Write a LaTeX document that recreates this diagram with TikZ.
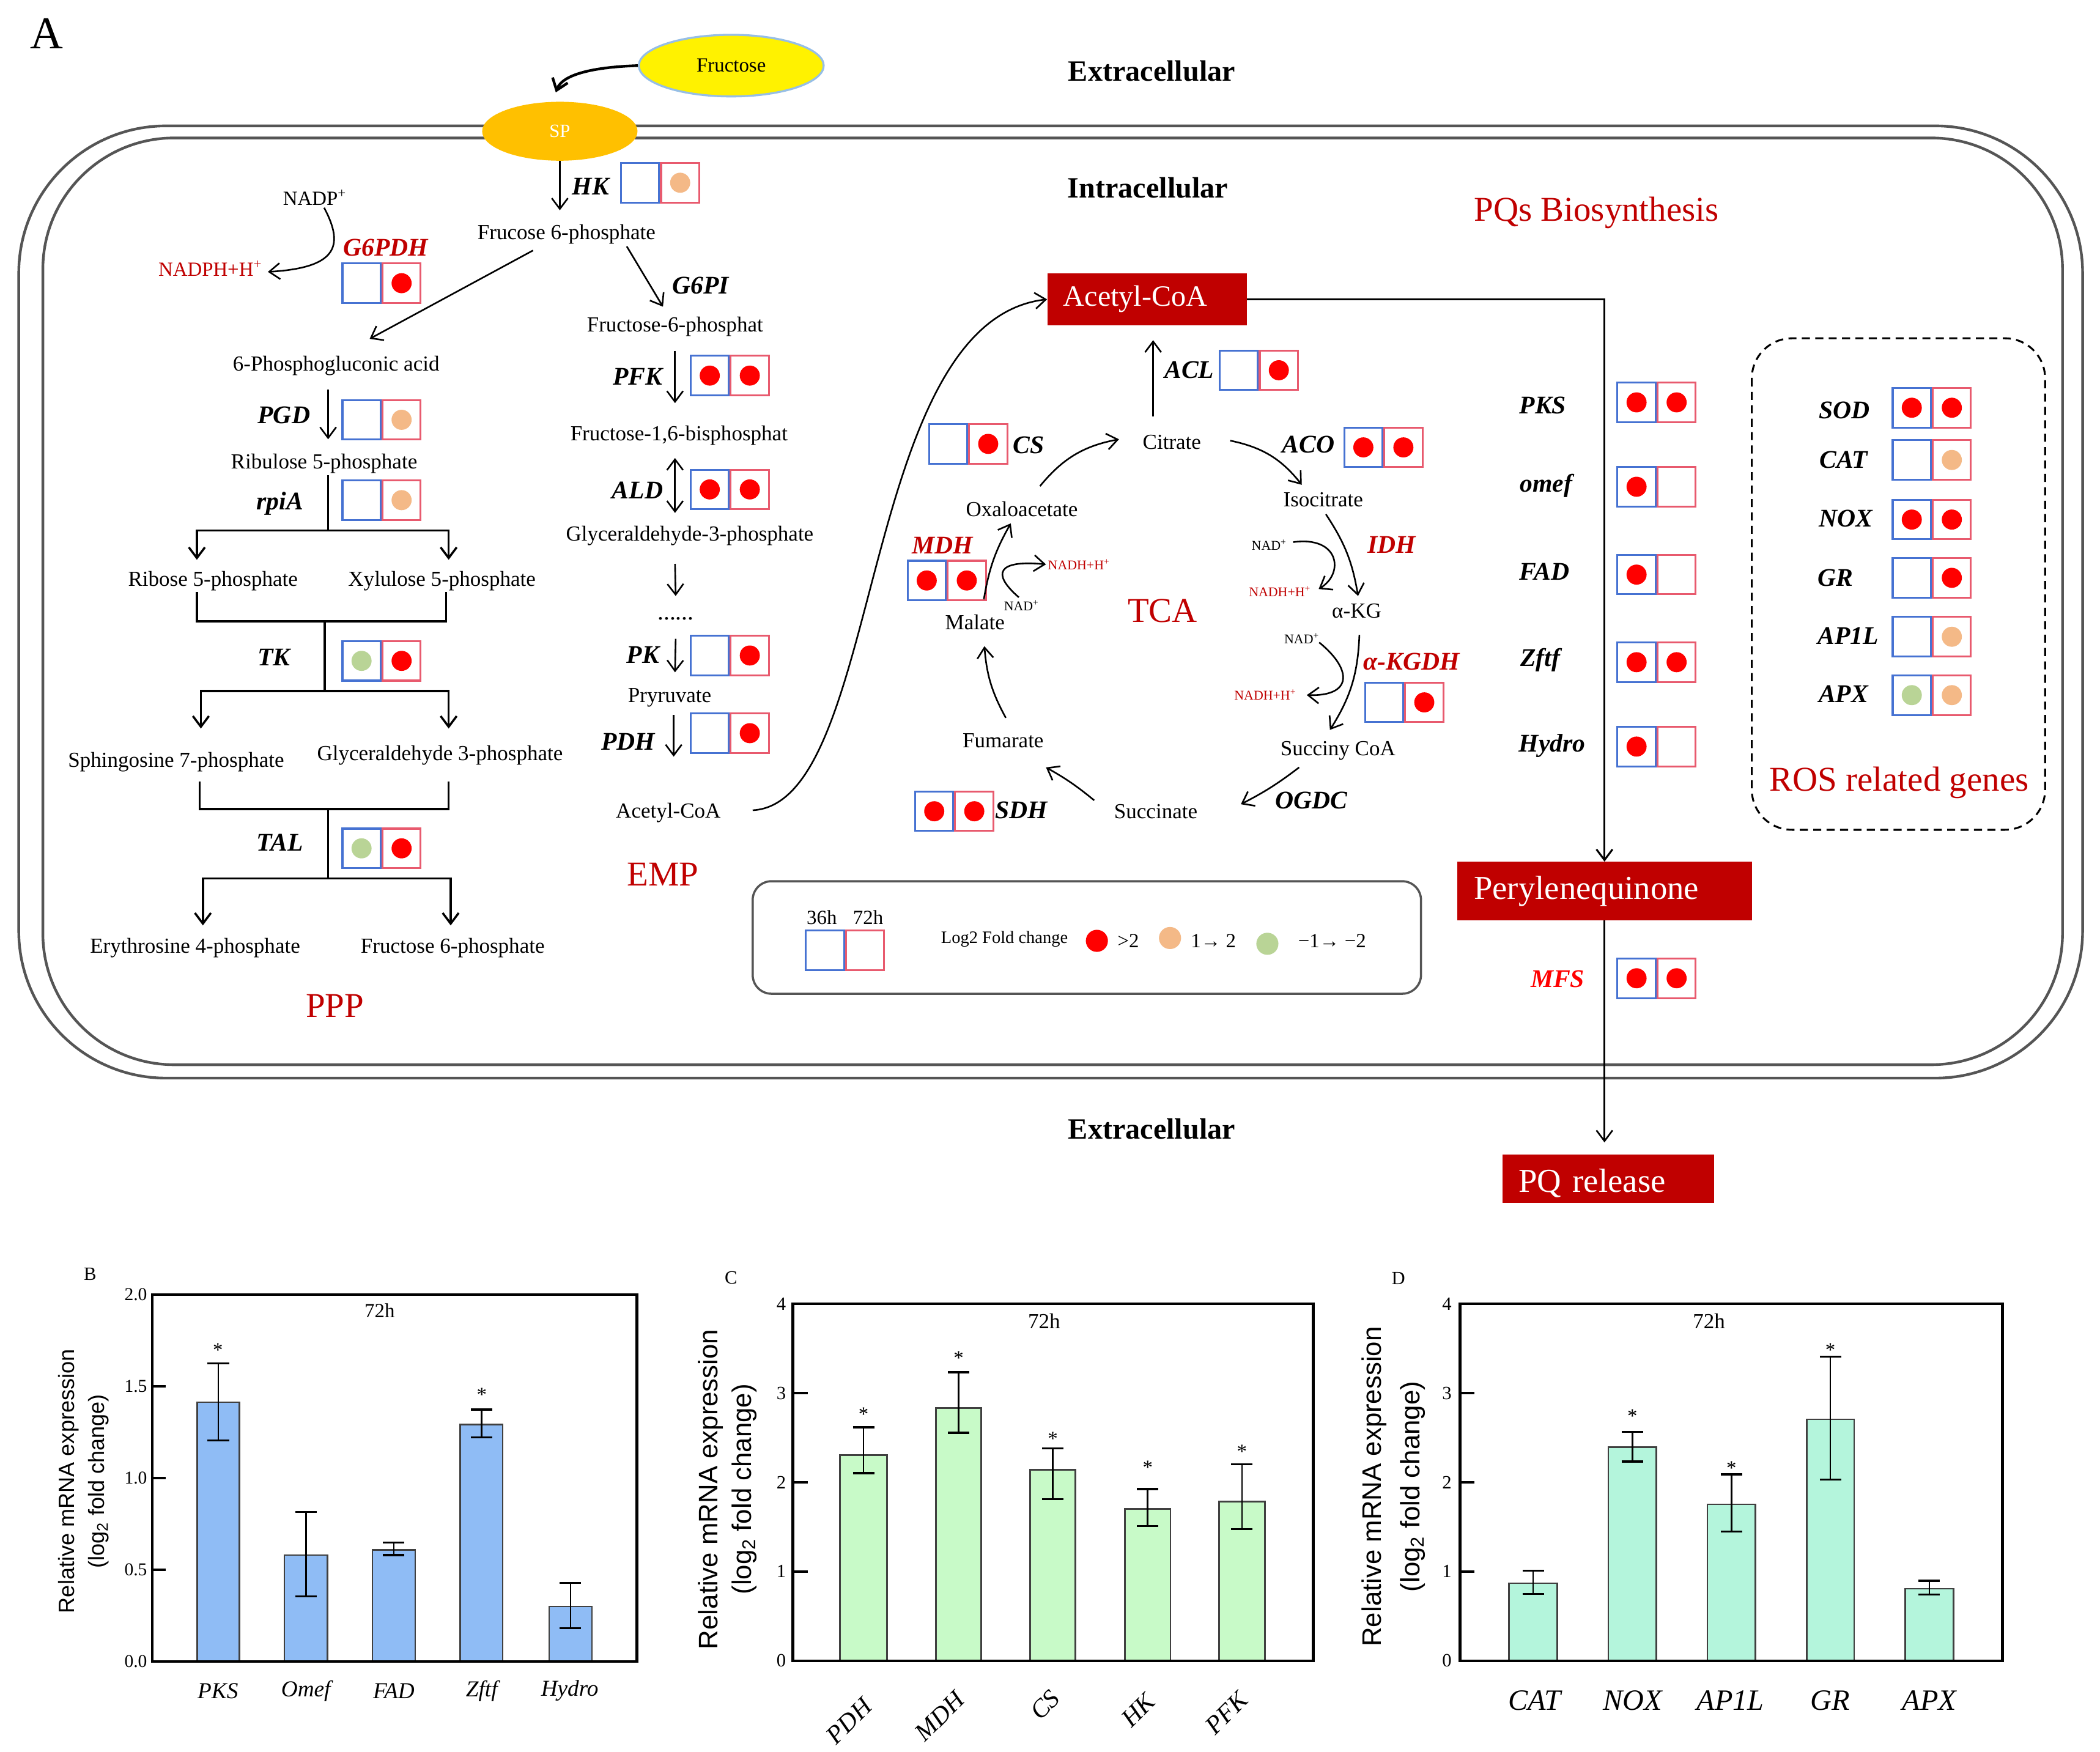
\documentclass[tikz,border=0pt]{standalone}
\usepackage{fontspec}
\setmainfont{Liberation Serif}
\setsansfont{Liberation Sans}
\usetikzlibrary{arrows.meta,calc,shapes.geometric}
\newcommand\fsz[1]{\fontsize{#1}{#1}\selectfont}
\definecolor{dred}{RGB}{192,0,0}
\definecolor{bluec}{RGB}{70,114,210}
\definecolor{redc}{RGB}{232,90,110}
\definecolor{dotr}{RGB}{255,0,0}
\definecolor{doto}{RGB}{244,185,135}
\definecolor{dotg}{RGB}{185,212,150}
\definecolor{memb}{RGB}{85,85,85}
\definecolor{barB}{RGB}{143,188,245}
\definecolor{barC}{RGB}{200,250,200}
\definecolor{barD}{RGB}{180,245,220}
\definecolor{spc}{RGB}{255,192,0}
\definecolor{fruedge}{RGB}{150,190,230}
% gene box: name, x, y, left dot, right dot
\newcommand\genebox[5]{%
  \node[cellL] (#1a) at (#2,#3) {};
  \node[cellR] (#1b) at (#1a.north east) {};
  \node[gdot,fill=#4] (#1c) at (#1a.center) {};
  \node[gdot,fill=#5] (#1d) at (#1b.center) {};
}
% bar: x1, x2, base, unit, value, lo, hi, colour
\newcommand\cbar[8]{%
  \draw[line width=1.2pt, draw=black!75, fill=#8] (#1,#3) rectangle (#2,{#3-#5*#4});
  \draw[line width=1.2pt] ({(#1+#2)/2},{#3-#6*#4}) -- ({(#1+#2)/2},{#3-#7*#4});
  \draw[line width=1.5pt] ({(#1+#2)/2-8},{#3-#6*#4}) -- ({(#1+#2)/2+8},{#3-#6*#4});
  \draw[line width=1.5pt] ({(#1+#2)/2-8},{#3-#7*#4}) -- ({(#1+#2)/2+8},{#3-#7*#4});
}
\begin{document}
\begin{tikzpicture}[x=1pt,y=-1pt,
  met/.style={font=\fsz{16}, inner sep=1pt},
  gene/.style={font=\fsz{19}\bfseries\itshape, inner sep=1pt},
  rgene/.style={gene, text=dred},
  smalltxt/.style={font=\fsz{10}, inner sep=0.5pt},
  celltitle/.style={font=\fsz{22}\bfseries},
  plab/.style={font=\fsz{26}, text=dred},
  arr/.style={-{Straight Barb[length=8pt,width=12pt]}, line width=1.2pt},
  darr/.style={{Straight Barb[length=8pt,width=12pt]}-{Straight Barb[length=8pt,width=12pt]}, line width=1.2pt},
  brl/.style={line width=1.6pt},
  cellL/.style={draw=bluec, line width=1.4pt, minimum width=28.5pt, minimum height=29.5pt, inner sep=0pt, anchor=north west},
  cellR/.style={cellL, draw=redc},
  gdot/.style={circle, minimum size=15pt, inner sep=0pt},
  redbox/.style={fill=dred, text=white, inner sep=0pt},
  ticklab/.style={font=\fsz{13.5}, inner sep=1pt, anchor=east},
  starst/.style={font=\fsz{15}, inner sep=0pt},
  ylab/.style={font=\sffamily, rotate=90, inner sep=0pt}
]
\fill[white] (0,0) rectangle (1568,1308);
\useasboundingbox (0,0) rectangle (1568,1308);

% ---------------- membrane ----------------
\draw[draw=memb, line width=2pt, rounded corners=110pt] (14,94) rectangle (1555,805);
\draw[draw=memb, line width=2pt, rounded corners=98pt] (32,103) rectangle (1540,795);

\node[font=\fsz{34}] (panA) at (35,25) {A};
\node[ellipse, fill=yellow, draw=fruedge, line width=1.5pt, minimum width=138pt, minimum height=46pt, inner sep=0pt, font=\fsz{15}] (fru) at (546,49) {Fructose};
\node[ellipse, fill=spc, minimum width=116pt, minimum height=44pt, inner sep=0pt, text=white, font=\fsz{14}] (sp) at (418,98) {SP};
\draw[arr, line width=2pt] (fru.west) .. controls (445,50) and (420,55) .. ($(sp)+(-3,-29)$);

\node[celltitle] (ext1) at (860,53) {Extracellular};
\node[celltitle] (intra) at (857,140) {Intracellular};
\node[celltitle] (ext2) at (860,843) {Extracellular};
\node[plab] (pqs) at (1192,159) {PQs Biosynthesis};

% ---------------- PPP ----------------
\node[met] (f6p) at (423,175) {Frucose 6-phosphate};
\node[met, font=\fsz{15}] (nadp) at (235,147.6) {NADP\textsuperscript{+}};
\node[met, font=\fsz{15}, text=dred] (nadph) at (157,200.5) {NADPH+H\textsuperscript{+}};
\node[met] (pga) at (251,273) {6-Phosphogluconic acid};
\node[met] (ru5p) at (242,346) {Ribulose 5-phosphate};
\node[met] (r5p) at (159,434) {Ribose 5-phosphate};
\node[met] (x5p) at (330,434) {Xylulose 5-phosphate};
\node[met] (s7p) at (131.5,569) {Sphingosine 7-phosphate};
\node[met] (g3p) at (328.5,564) {Glyceraldehyde 3-phosphate};
\node[met] (e4p) at (145.7,708) {Erythrosine 4-phosphate};
\node[met] (f6p2) at (338,708) {Fructose 6-phosphate};
\node[plab] (ppp) at (250,751) {PPP};
\node[met] (f6ph) at (504,244) {Fructose-6-phosphat};

\node[gene] (lHK) at (441,139) {HK};
\genebox{bHK}{463}{121}{none}{doto}
\node[rgene] (lG6PDH) at (288,185) {G6PDH};
\genebox{bG6PDH}{255}{196}{none}{dotr}
\node[gene] (lG6PI) at (523,213) {G6PI};
\node[gene] (lPGD) at (212,310) {PGD};
\genebox{bPGD}{255}{298}{none}{doto}
\node[gene] (lrpiA) at (209,376) {rpiA};
\genebox{brpiA}{255}{358}{none}{doto}
\node[gene] (lTK) at (204.5,491) {TK};
\genebox{bTK}{255}{478}{dotg}{dotr}
\node[gene] (lTAL) at (209,629) {TAL};
\genebox{bTAL}{255}{618}{dotg}{dotr}

\draw[arr] (sp.south) -- ($(f6p)+(-5,-18)$);
\draw[arr] ($(f6p)+(45,9)$) -- ($(f6ph)+(-9,-15)$);
\draw[arr] ($(f6p)+(-25,12)$) -- ($(pga)+(25,-20)$);
\draw[arr] ($(nadp)+(7,7.5)$) .. controls (258,185) and (250,200) .. ($(nadph)+(43,2.5)$);
\draw[arr] ($(pga)+(-6,18)$) -- ($(ru5p)+(3,-18)$);

\coordinate (j1) at (245,396);
\coordinate (j2) at (242.5,464);
\coordinate (j3) at (242.5,516);
\coordinate (j4) at (245,604);
\coordinate (j5) at (245,656);
\draw[brl] ($(ru5p)+(3,9)$) -- (j1);
\draw[brl, arr, line width=1.6pt] (j1) -| ($(r5p)+(-12,-16)$);
\draw[brl, arr, line width=1.6pt] (j1) -| ($(x5p)+(5,-16)$);
\draw[brl] ($(r5p)+(-12,8)$) |- (j2) -| ($(x5p)+(3,8)$);
\draw[brl] (j2) -- (j3);
\draw[brl, arr, line width=1.6pt] (j3) -| ($(s7p)+(18.5,-25)$);
\draw[brl, arr, line width=1.6pt] (j3) -| ($(g3p)+(6.5,-20)$);
\draw[brl] ($(s7p)+(17.5,14.5)$) |- (j4) -| ($(g3p)+(6.5,19.5)$);
\draw[brl] (j4) -- (j5);
\draw[brl, arr, line width=1.6pt] (j5) -| ($(e4p)+(5.8,-17)$);
\draw[brl, arr, line width=1.6pt] (j5) -| ($(f6p2)+(-1.5,-17)$);

% ---------------- EMP ----------------
\node[met] (f16) at (507,325) {Fructose-1,6-bisphosphat};
\node[met] (gap) at (515,400) {Glyceraldehyde-3-phosphate};
\node[met, font=\fsz{18}] (dots) at (504.5,462) {......};
\node[met] (pyr) at (500,521) {Pryruvate};
\node[met] (acoa) at (499,607) {Acetyl-CoA};
\node[plab] (emp) at (495,653) {EMP};

\node[gene] (lPFK) at (476,281) {PFK};
\genebox{bPFK}{515}{265}{dotr}{dotr}
\node[gene] (lALD) at (476,366) {ALD};
\genebox{bALD}{515}{350}{dotr}{dotr}
\node[gene] (lPK) at (480,489) {PK};
\genebox{bPK}{515}{474}{none}{dotr}
\node[gene] (lPDH) at (469,554) {PDH};
\genebox{bPDH}{515}{532}{none}{dotr}

\draw[arr] ($(f6ph)+(0,18)$) -- ($(f16)+(-3,-24)$);
\draw[darr] ($(f16)+(-3,17)$) -- ($(gap)+(-11,-17)$);
\draw[arr] ($(gap)+(-11,21)$) -- ($(dots)+(0,-17)$);
\draw[arr] ($(dots)+(0,15)$) -- ($(pyr)+(4,-19)$);
\draw[arr] ($(pyr)+(3,13)$) -- ($(acoa)+(4,-42)$);

% ---------------- TCA ----------------
\node[redbox, minimum width=149pt, minimum height=39pt, text width=125pt, inner xsep=12pt, align=left, font=\fsz{22}] (acbox) at (856.5,223.5) {Acetyl-CoA};
\draw[arr] ($(acoa)+(63,-2)$) .. controls (660,600) and (640,240) .. (acbox.west);

\node[met] (cit) at (875,330) {Citrate};
\node[met] (oaa) at (763,380) {Oxaloacetate};
\node[met] (iso) at (988,373) {Isocitrate};
\node[met] (akg) at (1013,456) {α-KG};
\node[met] (sca) at (999,560.6) {Succiny CoA};
\node[met] (suc) at (863,606) {Succinate};
\node[met] (fum) at (749,553) {Fumarate};
\node[met] (mal) at (728,464.5) {Malate};
\node[plab] (tca) at (868,456) {TCA};

\node[smalltxt] (nad1) at (947.6,406.8) {NAD\textsuperscript{+}};
\node[smalltxt, text=dred] (nadh1) at (955.6,441.8) {NADH+H\textsuperscript{+}};
\node[smalltxt] (nad2) at (972,476.7) {NAD\textsuperscript{+}};
\node[smalltxt, text=dred] (nadh2) at (944.7,519) {NADH+H\textsuperscript{+}};
\node[smalltxt] (nad3) at (762.7,452) {NAD\textsuperscript{+}};
\node[smalltxt, text=dred] (nadh3) at (805.6,421.4) {NADH+H\textsuperscript{+}};

\node[gene] (lACL) at (888,276.4) {ACL};
\genebox{bACL}{910}{261}{none}{dotr}
\node[gene] (lCS) at (768,332.6) {CS};
\genebox{bCS}{693}{316}{none}{dotr}
\node[gene] (lACO) at (977,332) {ACO};
\genebox{bACO}{1003}{318.6}{dotr}{dotr}
\node[rgene] (lIDH) at (1039,407) {IDH};
\node[rgene] (lKGDH) at (1054,494) {α-KGDH};
\genebox{bKGDH}{1018.6}{509}{none}{dotr}
\node[gene] (lOGDC) at (979.3,597.6) {OGDC};
\node[gene] (lSDH) at (762.7,605) {SDH};
\genebox{bSDH}{682.6}{590.3}{dotr}{dotr}
\node[rgene] (lMDH) at (703.7,407.4) {MDH};
\genebox{bMDH}{677}{418}{dotr}{dotr}

\draw[arr] ($(cit)+(-14,-19)$) -- ($(acbox)+(4.5,30.5)$);
\draw[arr] ($(oaa)+(13.5,-17)$) to[bend left=20] ($(cit)+(-39.5,-2)$);
\draw[arr] ($(cit)+(43.5,-1)$) to[bend left=20] ($(iso)+(-16,-11)$);
\draw[arr] ($(iso)+(2,11)$) to[bend left=12] ($(akg)+(1,-11)$);
\draw[arr] ($(nad1)+(18,-2)$) .. controls (1000,400) and (1004,428) .. ($(nadh1)+(29,-2)$);
\draw[arr] ($(akg)+(2,18)$) to[bend left=15] ($(sca)+(-6,-15.6)$);
\draw[arr] ($(nad2)+(13,3)$) .. controls (1010,500) and (1010,520) .. ($(nadh2)+(31,0)$);
\draw[arr] ($(sca)+(-29,12.4)$) to[bend left=5] ($(suc)+(63.5,-5.5)$);
\draw[arr] ($(suc)+(-46,-8.4)$) to[bend right=5] ($(fum)+(32,20)$);
\draw[arr] ($(fum)+(2,-17)$) to[bend left=12] ($(mal)+(7,18)$);
\draw[arr] ($(mal)+(6.6,-17)$) to[bend left=10] ($(oaa)+(-8.3,10.8)$);
\draw[arr] ($(nad3)+(-2,-6)$) .. controls (740,428) and (745,418) .. ($(nadh3)+(-24.6,0)$);

% ---------------- PQ biosynthesis ----------------
\node[redbox, minimum width=220pt, minimum height=43.5pt, text width=195pt, inner xsep=12.5pt, align=left, font=\fsz{25}] (pery) at (1198,665.3) {Perylenequinone};
\node[redbox, minimum width=158pt, minimum height=36pt, text width=134pt, inner xsep=12pt, align=left, font=\fsz{25}] (pqr) at (1201,880) {\raisebox{-10pt}[0pt][0pt]{PQ release}};
\draw[line width=1.4pt, -{Straight Barb[length=8pt,width=12pt]}] (acbox.east) -| (pery.north);
\draw[arr] (pery.south) -- ($(pqr)+(-3,-27)$);
\node[gene, text=dotr] (lMFS) at (1163,731) {MFS};
\genebox{bMFS}{1207}{715}{dotr}{dotr}

\node[gene] (lPKS) at (1152,302.6) {PKS};
\genebox{bPKS}{1207}{285}{dotr}{dotr}
\node[gene] (lomef) at (1154.4,362.5) {omef};
\genebox{bomef}{1207}{348}{dotr}{none}
\node[gene] (lFAD) at (1153,427) {FAD};
\genebox{bFAD}{1207}{413.6}{dotr}{none}
\node[gene] (lZftf) at (1150,492.7) {Zftf};
\genebox{bZftf}{1207}{479}{dotr}{dotr}
\node[gene] (lHydro) at (1159,557) {Hydro};
\genebox{bHydro}{1207}{542}{dotr}{none}

% ---------------- ROS ----------------
\draw[line width=1.4pt, dashed, dash pattern=on 6pt off 4pt, rounded corners=30pt] (1308,252.6) rectangle (1527,619.6);
\node[gene] (lSOD) at (1377,306.4) {SOD};
\genebox{bSOD}{1412.5}{289}{dotr}{dotr}
\node[gene] (lCAT) at (1376.5,343.4) {CAT};
\genebox{bCAT}{1412.5}{328}{none}{doto}
\node[gene] (lNOX) at (1378,387) {NOX};
\genebox{bNOX}{1412.5}{372.5}{dotr}{dotr}
\node[gene] (lGR) at (1370.5,431.5) {GR};
\genebox{bGR}{1412.5}{416}{none}{dotr}
\node[gene] (lAP1L) at (1380,474.7) {AP1L};
\genebox{bAP1L}{1412.5}{460}{none}{doto}
\node[gene] (lAPX) at (1376.5,518) {APX};
\genebox{bAPX}{1412.5}{503.6}{dotg}{doto}
\node[plab] (ros) at (1418,584.5) {ROS related genes};

% ---------------- legend ----------------
\draw[draw=memb, line width=1.6pt, rounded corners=14pt] (562,658) rectangle (1061,742);
\node[font=\fsz{15}] (l36) at (613.6,685) {36h};
\node[font=\fsz{15}] (l72) at (648.2,685) {72h};
\genebox{bLeg}{601}{694}{none}{none}
\node[font=\fsz{13}] (lfc) at (750,701.3) {Log2 Fold change};
\node[gdot, fill=dotr, minimum size=16.5pt] (lgr) at (819,702.5) {};
\node[font=\fsz{15}] (lgt) at (842.5,702.4) {>2};
\node[gdot, fill=doto, minimum size=16.5pt] (lgo) at (873.6,700.4) {};
\node[font=\fsz{15}] (l12) at (906,702.4) {1→ 2};
\node[gdot, fill=dotg, minimum size=16.5pt] (lgg) at (946.3,704.7) {};
\node[font=\fsz{15}] (lm12) at (994.6,702.4) {−1→ −2};

% ---------------- chart B ----------------
\node[font=\fsz{14}] (panB) at (67.3,951.5) {B};
\cbar{147.3}{178.7}{1240.7}{137.1}{1.413}{1.205}{1.624}{barB}
\cbar{212.4}{244.4}{1240.7}{137.1}{0.58}{0.355}{0.816}{barB}
\cbar{278}{310}{1240.7}{137.1}{0.608}{0.58}{0.649}{barB}
\cbar{343.7}{375.4}{1240.7}{137.1}{1.292}{1.221}{1.373}{barB}
\cbar{410}{442}{1240.7}{137.1}{0.30}{0.182}{0.429}{barB}
\draw[line width=2pt] (113.7,966.5) rectangle (475.6,1240.7);
\foreach \v in {0.5,1.0,1.5} \draw[line width=2pt] (113.7,{1240.7-\v*137.1}) -- ++(10,0);
\foreach \v/\t/\n in {0/0.0/a,0.5/0.5/b,1/1.0/c,1.5/1.5/d,2/2.0/e}
  \node[ticklab] (tB\n) at (111,{1240.7-\v*137.1}) {\t};
\node[font=\fsz{15}] (hB) at (283.5,978.4) {72h};
\node[starst] (sB1) at (162.7,{1240.7-1.72*137.1+3}) {*};
\node[starst] (sB2) at (359.7,{1240.7-1.477*137.1+3}) {*};
\foreach \x/\t/\n in {162.7/PKS/a,228.4/Omef/b,294/FAD/c,359.7/Zftf/d,425.4/Hydro/e}
  \node[font=\fsz{17}\itshape] (xB\n) at (\x,1262.5) {\t};
\node[ylab, font=\sffamily\fsz{16.5}] (yB1) at (51.2,1106) {Relative mRNA expression};
\node[ylab, font=\sffamily\fsz{16.5}] (yB2) at (73.7,1106) {(log\textsubscript{2} fold change)};

% ---------------- chart C ----------------
\node[font=\fsz{14}] (panC) at (545.8,954) {C};
\cbar{627.2}{662.4}{1240}{66.6}{2.307}{2.103}{2.617}{barC}
\cbar{698.9}{732.7}{1240}{66.6}{2.834}{2.556}{3.234}{barC}
\cbar{769.2}{803}{1240}{66.6}{2.139}{1.811}{2.378}{barC}
\cbar{839.9}{874}{1240}{66.6}{1.70}{1.508}{1.925}{barC}
\cbar{910.2}{944.4}{1240}{66.6}{1.783}{1.476}{2.2}{barC}
\draw[line width=2pt] (592,973.6) rectangle (980.5,1240);
\foreach \v in {1,2,3} \draw[line width=2pt] (592,{1240-\v*66.6}) -- ++(11,0);
\foreach \v/\n in {0/a,1/b,2/c,3/d,4/e}
  \node[ticklab, font=\fsz{14}] (tC\n) at (588,{1240-\v*66.6}) {\v};
\node[font=\fsz{16}] (hC) at (779.6,986.4) {72h};
\node[starst] (sC1) at (644.8,{1240-2.806*66.6+3}) {*};
\node[starst] (sC2) at (715.8,{1240-3.44*66.6+3}) {*};
\node[starst] (sC3) at (786.1,{1240-2.531*66.6+3}) {*};
\node[starst] (sC4) at (857,{1240-2.21*66.6+3}) {*};
\node[starst] (sC5) at (927.3,{1240-2.389*66.6+3}) {*};
\foreach \x/\y/\t/\n in {634/1285/PDH/a,701.6/1281.5/MDH/b,780.3/1273/CS/c,849.9/1276.8/HK/d,915.9/1279.1/PFK/e}
  \node[font=\fsz{19}\itshape, rotate=45, inner sep=0pt] (xC\n) at (\x,\y) {\t};
\node[ylab, font=\sffamily\fsz{20}] (yC1) at (530.8,1112) {Relative mRNA expression};
\node[ylab, font=\sffamily\fsz{20}] (yC2) at (555.9,1112) {(log\textsubscript{2} fold change)};

% ---------------- chart D ----------------
\node[font=\fsz{14}] (panD) at (1044.1,954.6) {D};
\cbar{1126.8}{1162.7}{1240}{66.6}{0.868}{0.75}{1.011}{barD}
\cbar{1200.8}{1236.8}{1240}{66.6}{2.396}{2.232}{2.564}{barD}
\cbar{1274.9}{1310.8}{1240}{66.6}{1.754}{1.446}{2.089}{barD}
\cbar{1348.9}{1384.5}{1240}{66.6}{2.707}{2.029}{3.41}{barD}
\cbar{1422.6}{1458.5}{1240}{66.6}{0.807}{0.743}{0.896}{barD}
\draw[line width=2pt] (1090.1,973.6) rectangle (1495.2,1240);
\foreach \v in {1,2,3} \draw[line width=2pt] (1090.1,{1240-\v*66.6}) -- ++(11,0);
\foreach \v/\n in {0/a,1/b,2/c,3/d,4/e}
  \node[ticklab, font=\fsz{14}] (tD\n) at (1085,{1240-\v*66.6}) {\v};
\node[font=\fsz{16}] (hD) at (1276,986.4) {72h};
\node[starst] (sD1) at (1218.8,{1240-2.789*66.6+3}) {*};
\node[starst] (sD2) at (1292.8,{1240-2.207*66.6+3}) {*};
\node[starst] (sD3) at (1366.7,{1240-3.529*66.6+3}) {*};
\foreach \x/\t/\n in {1145.8/CAT/a,1218.8/NOX/b,1292.1/AP1L/c,1366.5/GR/d,1440.6/APX/e}
  \node[font=\fsz{22}\itshape] (xD\n) at (\x,1269.6) {\t};
\node[ylab, font=\sffamily\fsz{20}] (yD1) at (1026.2,1110) {Relative mRNA expression};
\node[ylab, font=\sffamily\fsz{20}] (yD2) at (1054.9,1110) {(log\textsubscript{2} fold change)};
\end{tikzpicture}
\end{document}
